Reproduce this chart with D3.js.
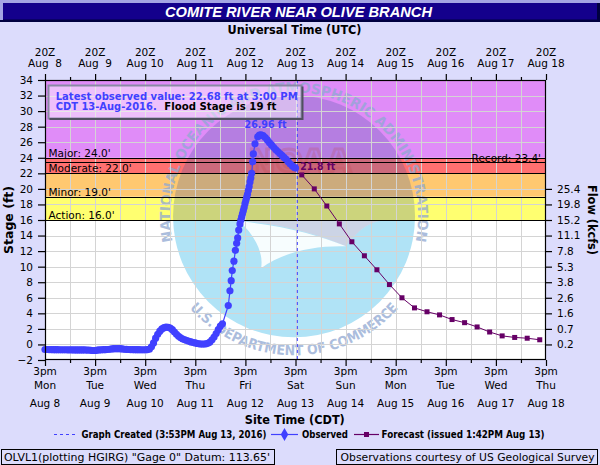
<!DOCTYPE html>
<html><head><meta charset="utf-8">
<script src="https://cdn.jsdelivr.net/npm/d3@7"></script>
<style>
html,body{margin:0;padding:0;background:#dcdcfc;}
svg{display:block;font-family:"DejaVu Sans",Verdana,sans-serif;}
</style></head><body>
<svg id="chart" width="600" height="465"></svg>
<script>
// ---------------- DATA ----------------
const titleText = "COMITE RIVER NEAR OLIVE BRANCH";
const dayNames = ["Mon","Tue","Wed","Thu","Fri","Sat","Sun","Mon","Tue","Wed","Thu"];
const dateLabels = ["Aug 8","Aug 9","Aug 10","Aug 11","Aug 12","Aug 13","Aug 14","Aug 15","Aug 16","Aug 17","Aug 18"];
const utcDateLabels = ["Aug  8","Aug  9","Aug 10","Aug 11","Aug 12","Aug 13","Aug 14","Aug 15","Aug 16","Aug 17","Aug 18"];
const stageTicks = [-2,0,2,4,6,8,10,12,14,16,18,20,22,24,26,28,30,32,34];
const flowTickStages = [0,2,4,6,8,10,12,14,16,18,20];
const flowTickLabels = ["0.2","0.7","1.6","2.6","3.8","5.3","7.8","11.1","15.2","19.8","25.4"];
const floodNames = ["Action","Minor","Moderate","Major"];
const floodStages = [16,19,22,24];
const recordStage = 23.4;
// hours after Mon Aug 8 3pm CDT
const obsHours = [0,1,2,3,4,5,6,7,8,9,10,11,12,13,14,15,16,17,18,19,20,21,22,23,24,25,26,27,28,29,30,
  31,32,33,34,35,36,37,38,39,40,41,42,43,44,45,46,47,48,49,50,51,52,53,54,55,56,57,58,59,60,
  61,62,63,64,65,66,67,68,69,70,71,72,73,74,75,76,77,78,79,80,81,82,83,84,85,
  87.8,88.6,89.2,89.7,90.5,91.2,91.8,92.3,92.8,93.4,93.8,94.2,94.6,95.0,95.4,95.8,96.2,96.6,97.0,97.4,97.8,98.2,98.6,99.0,99.5,99.8,100.6,101.9,102.7,103.5,
  104.5,105.5,106.5,107.5,108.5,109.5,110.5,111.5,112.5,113.5,114.5,115.5,116.5,117.5,118.5,119.5,120];
const obsStage = [-0.65,-0.65,-0.66,-0.66,-0.67,-0.67,-0.67,-0.68,-0.68,-0.68,-0.68,-0.69,-0.69,-0.69,-0.7,-0.7,-0.7,-0.7,-0.7,-0.71,-0.72,-0.74,-0.76,-0.78,-0.78,-0.74,-0.7,-0.68,-0.67,-0.66,-0.65,
  -0.62,-0.58,-0.55,-0.54,-0.54,-0.55,-0.58,-0.62,-0.64,-0.65,-0.66,-0.66,-0.67,-0.67,-0.67,-0.68,-0.68,-0.68,-0.66,-0.62,-0.3,0.2,0.8,1.3,1.7,2.0,2.15,2.22,2.2,2.1,
  1.9,1.6,1.3,1.05,0.85,0.7,0.6,0.5,0.4,0.32,0.25,0.2,0.12,0.08,0.05,0.05,0.08,0.15,0.3,0.6,0.95,1.4,1.9,2.35,2.65,
  5.0,6.9,8.2,9.5,10.7,12.1,13.0,13.7,14.7,15.5,16.0,16.4,16.8,17.2,17.6,18.1,18.5,18.9,19.3,19.8,20.3,20.9,21.4,22.0,23.5,24.5,25.8,26.7,26.9,26.96,
  26.85,26.6,26.3,25.95,25.65,25.35,25.05,24.8,24.55,24.3,24.05,23.8,23.5,23.2,22.95,22.75,22.68];
const fcstHours = [123,129,135,141,147,153,159,165,171,177,183,189,195,201,207,213,219,225,231,237];
const fcstStage = [21.8,20.0,17.8,15.5,13.2,11.4,9.6,7.7,6.0,4.7,4.2,3.8,3.2,2.8,2.25,1.6,1.1,0.9,0.8,0.6];
const graphCreatedHour = 120.88;

// ---------------- SETUP ----------------
const svg = d3.select("#chart");
const W = 600, H = 465;
const plot = {l:45, r:546, t:80, b:360};
const x = d3.scaleLinear().domain([0,240]).range([plot.l, plot.r]);
const y = d3.scaleLinear().domain([-2,34]).range([plot.b, plot.t]);
const BLUE = "#4040ff", PURP = "#660066";
const defs = svg.append("defs");

svg.append("rect").attr("width",W).attr("height",H).attr("fill","#dcdcfc");

// title bar
svg.append("rect").attr("x",0).attr("y",0).attr("width",600).attr("height",22).attr("fill","#000040");
svg.append("rect").attr("x",0).attr("y",0).attr("width",600).attr("height",3).attr("fill","#a4a4e4");
svg.append("rect").attr("x",0).attr("y",0).attr("width",3).attr("height",20).attr("fill","#a4a4e4");
svg.append("rect").attr("x",3).attr("y",3).attr("width",594).attr("height",16.5).attr("fill","#14008c");
svg.append("text").attr("x",298.5).attr("y",17.3).attr("text-anchor","middle")
  .attr("fill","#fff").attr("font-family","'Liberation Sans',Arial,sans-serif")
  .attr("font-weight","bold").attr("font-style","italic").attr("font-size",14.5)
  .attr("textLength",267).attr("lengthAdjust","spacingAndGlyphs").text(titleText);

// plot background
svg.append("rect").attr("x",plot.l).attr("y",plot.t).attr("width",plot.r-plot.l).attr("height",plot.b-plot.t).attr("fill","#fff");

// flood bands
const bandColors = ["#ffff70","#ffc870","#ff7070","#e08cf8"];
floodStages.forEach((s,i)=>{
  const top = i < floodStages.length-1 ? floodStages[i+1] : y.domain()[1];
  svg.append("rect").attr("x",plot.l).attr("width",plot.r-plot.l)
    .attr("y",y(top)).attr("height",y(s)-y(top)).attr("fill",bandColors[i]);
});

// ---------------- WATERMARK ----------------
const cx = x(119.3), cy = y(16.47), R = 121;
defs.append("clipPath").attr("id","wmclip").append("circle").attr("cx",cx).attr("cy",cy).attr("r",R);
const wm = svg.append("g");
const bnd = `L${cx-55},${cy+4} C${cx-10},${cy+8} ${cx+25},${cy+18} ${cx+52},${cy+30} C${cx+60},${cy+20} ${cx+70},${cy+6} ${cx+90},${cy+4} L${cx+R+5},${cy+4}`;
wm.append("path").attr("clip-path","url(#wmclip)")
  .attr("d",`M${cx-R-5},${cy+4} ${bnd} L${cx+R+5},${cy+R+5} L${cx-R-5},${cy+R+5} Z`)
  .attr("fill","#b0e3f6");
wm.append("path").attr("clip-path","url(#wmclip)")
  .attr("d",`M${cx-R-5},${cy+4} ${bnd} L${cx+R+5},${cy-R-5} L${cx-R-5},${cy-R-5} Z`)
  .attr("fill","#3a5a9e").attr("opacity",0.26);
wm.append("path")
  .attr("d",`M${cx-55},${cy+5} C${cx-10},${cy+9} ${cx+25},${cy+19} ${cx+52},${cy+30} C${cx+20},${cy+29} ${cx-12},${cy+36} ${cx-33},${cy+52} C${cx-30},${cy+36} ${cx-40},${cy+18} ${cx-55},${cy+5} Z`)
  .attr("fill","#fff").attr("opacity",0.9);
wm.append("text").attr("x",cx+6).attr("y",cy-44).attr("text-anchor","middle")
  .attr("font-weight","bold").attr("font-size",32).attr("fill","none")
  .attr("stroke","#c04848").attr("stroke-width",3).attr("opacity",0.22).text("NOAA");
// ring text
const Rt = 124, a1 = 15*Math.PI/180;
defs.append("path").attr("id","arcTop")
  .attr("d",`M${cx-Rt*Math.cos(a1)},${cy+Rt*Math.sin(a1)} A${Rt},${Rt} 0 1 1 ${cx+Rt*Math.cos(a1)},${cy+Rt*Math.sin(a1)}`);
const Rb = 139, a2 = 38*Math.PI/180;
defs.append("path").attr("id","arcBot")
  .attr("d",`M${cx-Rb*Math.cos(a2)},${cy+Rb*Math.sin(a2)} A${Rb},${Rb} 0 0 0 ${cx+Rb*Math.cos(a2)},${cy+Rb*Math.sin(a2)}`);
const rt = wm.append("text").attr("font-weight","bold").attr("font-size",14).attr("fill","#8fa8d2").attr("opacity",0.75);
rt.append("textPath").attr("href","#arcTop").attr("startOffset","50%").attr("text-anchor","middle")
  .attr("textLength",440).attr("lengthAdjust","spacingAndGlyphs").text("NATIONAL OCEANIC AND ATMOSPHERIC ADMINISTRATION");
const rb = wm.append("text").attr("font-weight","bold").attr("font-size",14).attr("fill","#8fa8d2").attr("opacity",0.75);
rb.append("textPath").attr("href","#arcBot").attr("startOffset","50%").attr("text-anchor","middle")
  .attr("textLength",236).attr("lengthAdjust","spacingAndGlyphs").text("U.S. DEPARTMENT OF COMMERCE");

// ---------------- GRID ----------------
const grid = svg.append("g").attr("stroke","#d4d4d4").attr("stroke-width",1);
d3.range(12,240,12).forEach(h=>{
  grid.append("line").attr("x1",Math.round(x(h))+0.5).attr("x2",Math.round(x(h))+0.5).attr("y1",plot.t).attr("y2",plot.b);
});
stageTicks.slice(1,-1).forEach(s=>{
  grid.append("line").attr("x1",plot.l).attr("x2",plot.r).attr("y1",Math.round(y(s))+0.5).attr("y2",Math.round(y(s))+0.5);
});

// flood lines & labels
floodStages.concat([recordStage]).forEach(s=>{
  svg.append("line").attr("x1",plot.l).attr("x2",plot.r).attr("y1",Math.round(y(s))+0.5).attr("y2",Math.round(y(s))+0.5)
    .attr("stroke","#000").attr("stroke-width",1.2);
});
floodStages.forEach((s,i)=>{
  svg.append("text").attr("x",plot.l+3.5).attr("y",y(s)-1).attr("font-size",10.5).attr("fill","#000")
    .text(`${floodNames[i]}: ${s.toFixed(1)}'`);
});
svg.append("text").attr("x",plot.r-5).attr("y",y(recordStage)-0.8).attr("text-anchor","end")
  .attr("font-size",10.5).attr("fill","#000").text(`Record: ${recordStage.toFixed(1)}'`);

// graph created line
svg.append("line").attr("x1",x(graphCreatedHour)).attr("x2",x(graphCreatedHour)).attr("y1",plot.t).attr("y2",plot.b)
  .attr("stroke",BLUE).attr("stroke-width",1).attr("stroke-dasharray","3,3");

// ---------------- SERIES ----------------
const obs = obsHours.map((h,i)=>({h, v:obsStage[i]}));
const fc = fcstHours.map((h,i)=>({h, v:fcstStage[i]}));
const line = d3.line().x(d=>x(d.h)).y(d=>y(d.v));
svg.append("path").datum(obs).attr("d",line).attr("fill","none").attr("stroke",BLUE).attr("stroke-width",1.2);
svg.append("g").selectAll("circle").data(obs).join("circle")
  .attr("cx",d=>x(d.h)).attr("cy",d=>y(d.v)).attr("r",3.6).attr("fill",BLUE);
svg.append("path").datum(fc).attr("d",line).attr("fill","none").attr("stroke",PURP).attr("stroke-width",1);
svg.append("g").selectAll("rect").data(fc).join("rect")
  .attr("x",d=>x(d.h)-2.5).attr("y",d=>y(d.v)-2.5).attr("width",5).attr("height",5).attr("fill",PURP);

// value labels
const peak = obs.reduce((a,b)=> b.v>a.v? b:a);
svg.append("text").attr("x",x(peak.h)+4.5).attr("y",y(peak.v)-6.3).attr("text-anchor","middle")
  .attr("font-weight","bold").attr("font-size",10.5).attr("fill",BLUE)
  .attr("textLength",42).attr("lengthAdjust","spacingAndGlyphs").text(`${peak.v.toFixed(2)} ft`);
svg.append("text").attr("x",x(fc[0].h)-1.5).attr("y",y(fc[0].v)-5).attr("font-weight","bold")
  .attr("font-size",10.5).attr("fill",PURP).attr("textLength",35).attr("lengthAdjust","spacingAndGlyphs")
  .text(`${fc[0].v.toFixed(1)} ft`);

// info box
const last = obs[obs.length-1];
const ib = svg.append("g");
ib.append("rect").attr("x",48.5).attr("y",85.5).attr("width",253).attr("height",33)
  .attr("fill","#ffffff").attr("fill-opacity",0.45).attr("stroke","#8a8aa6").attr("stroke-width",2);
ib.append("path").attr("d","M49.5,119 H302.5 V86.5").attr("fill","none").attr("stroke","#505060").attr("stroke-width",2);
ib.append("text").attr("x",55.7).attr("y",99.7).attr("font-weight","bold").attr("font-size",11).attr("fill",BLUE)
  .attr("textLength",242).attr("lengthAdjust","spacingAndGlyphs")
  .text(`Latest observed value: ${last.v.toFixed(2)} ft at 3:00 PM`);
ib.append("text").attr("x",55.7).attr("y",110.2).attr("font-weight","bold").attr("font-size",11).attr("fill",BLUE)
  .attr("textLength",101).attr("lengthAdjust","spacingAndGlyphs").text("CDT 13-Aug-2016.");
ib.append("text").attr("x",164.3).attr("y",110.2).attr("font-weight","bold").attr("font-size",11).attr("fill","#000")
  .attr("textLength",112).attr("lengthAdjust","spacingAndGlyphs").text(`Flood Stage is ${floodStages[1]} ft`);

// ---------------- AXES ----------------
svg.append("rect").attr("x",plot.l+0.5).attr("y",plot.t+0.5).attr("width",plot.r-plot.l-1).attr("height",plot.b-plot.t-1)
  .attr("fill","none").attr("stroke","#000").attr("stroke-width",1.2);

function styleAxis(g){
  g.select(".domain").remove();
  g.attr("font-family",null).attr("font-size",null);
  g.selectAll("line").attr("stroke","#000").attr("stroke-width",1.2);
  g.selectAll("text").attr("font-size",10.5).attr("fill","#000");
}
function tickOnly(g){ styleAxis(g); g.selectAll("text").remove(); }
const majorH = d3.range(0,241,24), minorH = d3.range(12,240,24);
svg.append("g").attr("transform",`translate(${plot.l},0)`)
  .call(d3.axisLeft(y).tickValues(stageTicks).tickSize(7).tickPadding(5).tickSizeOuter(0)).call(styleAxis);
svg.append("g").attr("transform",`translate(${plot.r},0)`)
  .call(d3.axisRight(y).tickValues(flowTickStages).tickFormat((d,i)=>flowTickLabels[i]).tickSize(6).tickPadding(5).tickSizeOuter(0)).call(styleAxis);
svg.append("g").attr("transform",`translate(0,${plot.b})`)
  .call(d3.axisBottom(x).tickValues(majorH).tickSize(6).tickSizeOuter(0)).call(tickOnly);
svg.append("g").attr("transform",`translate(0,${plot.b})`)
  .call(d3.axisBottom(x).tickValues(minorH).tickSize(3).tickSizeOuter(0)).call(tickOnly);
svg.append("g").attr("transform",`translate(0,${plot.t})`)
  .call(d3.axisTop(x).tickValues(majorH).tickSize(6).tickSizeOuter(0)).call(tickOnly);
svg.append("g").attr("transform",`translate(0,${plot.t})`)
  .call(d3.axisTop(x).tickValues(minorH).tickSize(3).tickSizeOuter(0)).call(tickOnly);

majorH.forEach((h,i)=>{
  const xx = x(h);
  svg.append("text").attr("x",xx).attr("y",375.3).attr("text-anchor","middle").attr("font-size",10.5).text("3pm");
  svg.append("text").attr("x",xx).attr("y",389.2).attr("text-anchor","middle").attr("font-size",10.5).text(dayNames[i]);
  svg.append("text").attr("x",xx).attr("y",406.8).attr("text-anchor","middle").attr("font-size",10.5).text(dateLabels[i]);
  svg.append("text").attr("x",xx).attr("y",55.5).attr("text-anchor","middle").attr("font-size",10.5).text("20Z");
  svg.append("text").attr("x",xx).attr("y",66.7).attr("text-anchor","middle").attr("font-size",10.5)
    .style("white-space","pre").text(utcDateLabels[i]);
});

// axis titles
svg.append("text").attr("x",294.5).attr("y",33.5).attr("text-anchor","middle").attr("font-weight","bold")
  .attr("font-size",12.5).attr("textLength",134).attr("lengthAdjust","spacingAndGlyphs").text("Universal Time (UTC)");
svg.append("text").attr("x",294.8).attr("y",423.5).attr("text-anchor","middle").attr("font-weight","bold")
  .attr("font-size",12.5).attr("textLength",100).attr("lengthAdjust","spacingAndGlyphs").text("Site Time (CDT)");
svg.append("text").attr("transform",`translate(12.5,${(plot.t+plot.b)/2}) rotate(-90)`).attr("text-anchor","middle")
  .attr("font-weight","bold").attr("font-size",12.5).attr("textLength",68).attr("lengthAdjust","spacingAndGlyphs").text("Stage (ft)");
svg.append("text").attr("transform",`translate(587.5,${(plot.t+plot.b)/2}) rotate(90)`).attr("text-anchor","middle")
  .attr("font-weight","bold").attr("font-size",12.5).attr("textLength",70).attr("lengthAdjust","spacingAndGlyphs").text("Flow (kcfs)");

// ---------------- LEGEND ----------------
const ly = 434.5;
svg.append("line").attr("x1",54).attr("x2",77).attr("y1",ly).attr("y2",ly).attr("stroke",BLUE).attr("stroke-dasharray","3,3");
svg.append("text").attr("x",81.5).attr("y",438.3).attr("font-weight","bold").attr("font-size",11)
  .attr("textLength",185).attr("lengthAdjust","spacingAndGlyphs").text("Graph Created (3:53PM Aug 13, 2016)");
svg.append("line").attr("x1",271).attr("x2",298).attr("y1",ly).attr("y2",ly).attr("stroke",BLUE).attr("stroke-width",1.2);
svg.append("path").attr("d",d3.symbol(d3.symbolDiamond,48)).attr("transform",`translate(284.5,${ly})`).attr("fill",BLUE);
svg.append("text").attr("x",302).attr("y",438.3).attr("font-weight","bold").attr("font-size",11)
  .attr("textLength",46).attr("lengthAdjust","spacingAndGlyphs").text("Observed");
svg.append("line").attr("x1",354).attr("x2",379).attr("y1",ly).attr("y2",ly).attr("stroke",PURP).attr("stroke-width",1.2);
svg.append("rect").attr("x",364).attr("y",ly-2.5).attr("width",5).attr("height",5).attr("fill",PURP);
svg.append("text").attr("x",381.6).attr("y",438.3).attr("font-weight","bold").attr("font-size",11)
  .attr("textLength",163).attr("lengthAdjust","spacingAndGlyphs").text("Forecast (issued 1:42PM Aug 13)");

// footer
svg.append("rect").attr("x",1.5).attr("y",449.5).attr("width",273).attr("height",15).attr("fill","none").attr("stroke","#000");
svg.append("text").attr("x",4).attr("y",461.3).attr("font-size",10.5)
  .attr("textLength",266).attr("lengthAdjust","spacingAndGlyphs").text(`OLVL1(plotting HGIRG) "Gage 0" Datum: 113.65'`);
svg.append("rect").attr("x",336.5).attr("y",449.5).attr("width",261).attr("height",15).attr("fill","none").attr("stroke","#000");
svg.append("text").attr("x",340.6).attr("y",461.3).attr("font-size",10.5)
  .attr("textLength",254).attr("lengthAdjust","spacingAndGlyphs").text("Observations courtesy of US Geological Survey");
</script>
</body></html>
